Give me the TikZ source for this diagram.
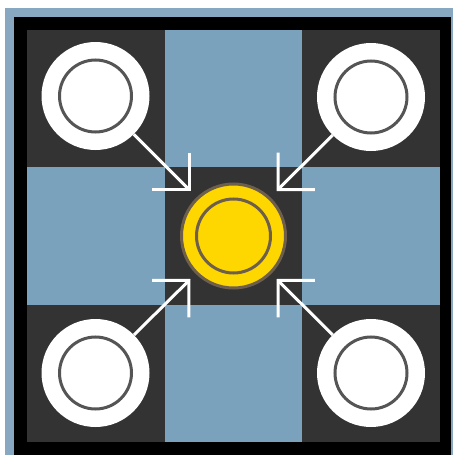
\documentclass[tikz,border=0pt]{standalone}
\usetikzlibrary{arrows.meta, positioning, calc}
\definecolor{cframe}{HTML}{87A8C0}
\definecolor{cboard}{HTML}{333333}
\definecolor{cblue}{HTML}{7BA2BC}
\definecolor{cgold}{HTML}{FFD700}
\definecolor{cbrown}{HTML}{6E5E4C}
\definecolor{cring}{HTML}{555555}
\tikzset{
  every picture/.style={x=1pt, y=-1pt},
  pin/.style={circle, fill=white, minimum size=108pt, inner sep=0pt},
  goal/.style={circle, fill=cgold, draw=cbrown, line width=3pt, minimum size=104pt, inner sep=0pt},
  ring/.style={draw=#1, line width=3pt},
  ring/.default=cring,
  arrow/.style={-{Straight Barb[length=26pt, width=52pt]}, draw=white, line width=3pt},
}
\begin{document}
\begin{tikzpicture}
  \useasboundingbox[fill=white] (0,0) rectangle (456,455);
  % frame and board
  \fill[cframe] (5,8) rectangle (453,455);
  \fill[black] (14,17) rectangle (451,455);
  \fill[cboard] (27,30) rectangle (440,442);
  \fill[cblue] (164.7,30) rectangle (302.3,442);
  \fill[cblue] (27,167.3) rectangle (440,304.7);
  \fill[cboard] (164.7,167.3) rectangle (302.3,304.7);
  % centre piece
  \node[goal] (goal) at (233.5,236) {};
  \draw[ring=cbrown] (goal) circle (37);
  % corner pieces and moves
  \foreach \name/\x/\y/\dx/\dy in {nw/95.5/96/-43/-45, ne/371/97/43/-45, sw/95.5/373/-43/43, se/371/373/43/43} {
    \node[pin] (\name) at (\x,\y) {};
    \draw[ring] (\name) circle (36);
    \coordinate (tip\name) at ($(goal)+(\dx,\dy)$);
    \draw[arrow] (\name) -- (tip\name);
  }
\end{tikzpicture}
\end{document}
